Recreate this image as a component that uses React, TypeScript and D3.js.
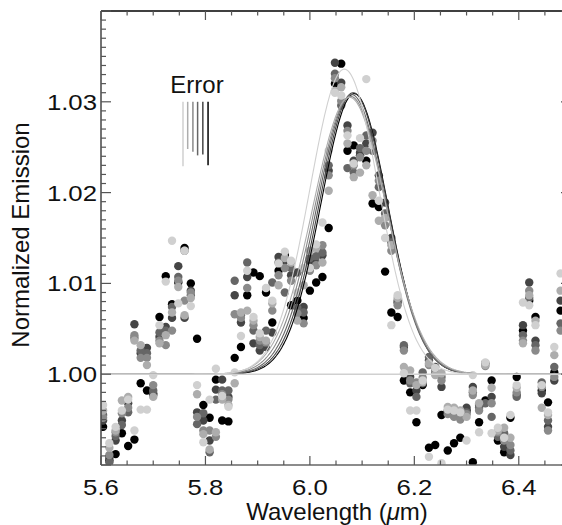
import * as d3 from "d3";

// wavelength grid of the spectrum (µm)
const wavelength = [
  5.604, 5.616, 5.628, 5.64, 5.652, 5.664, 5.676, 5.688, 5.7, 5.712,
  5.724, 5.736, 5.748, 5.76, 5.772, 5.784, 5.796, 5.808, 5.82, 5.832,
  5.844, 5.856, 5.868, 5.88, 5.892, 5.904, 5.916, 5.928, 5.94, 5.952,
  5.964, 5.976, 5.988, 6.0, 6.012, 6.024, 6.036, 6.048, 6.06, 6.072,
  6.084, 6.096, 6.108, 6.12, 6.132, 6.144, 6.156, 6.168, 6.18, 6.192,
  6.204, 6.216, 6.228, 6.24, 6.252, 6.264, 6.276, 6.288, 6.3, 6.312,
  6.324, 6.336, 6.348, 6.36, 6.372, 6.384, 6.396, 6.408, 6.42, 6.432,
  6.444, 6.456, 6.468, 6.48,
];

// normalized emission, one array per spectrum
const spec1 = [
  0.9942, 0.9905, 0.9912, 0.9935, 0.9921, 0.9928, 0.999, 0.9982, 0.9977, 1.0063,
  1.0108, 1.0077, 1.0101, 1.0139, 1.01, 1.0039, 0.9966, 0.9952, 0.9994, 0.9949,
  0.9948, 1.0018, 1.003, 1.0087, 1.0112, 1.0108, 1.009, 1.0057, 1.0114, 1.0131,
  1.0076, 1.0081, 1.0062, 1.0092, 1.0101, 1.0107, 1.0161, 1.032, 1.0342, 1.0246,
  1.0252, 1.0241, 1.0235, 1.0188, 1.0184, 1.0113, 1.0068, 1.0063, 0.9993, 0.998,
  0.9947, 0.9988, 0.9919, 0.9922, 0.9955, 0.9916, 0.9924, 0.993, 0.996, 0.9903,
  0.9947, 0.9971, 0.9993, 0.9927, 0.9914, 0.9952, 0.9997, 1.0048, 1.0081, 1.0063,
  0.9982, 0.9969, 1.0002, 1.007,
];
const spec2 = [
  0.9949, 0.9908, 0.9927, 0.9949, 0.9968, 1.0055, 1.0023, 1.0029, 0.9979, 1.0041,
  1.0052, 1.0062, 1.0119, 1.0062, 1.0092, 0.9958, 0.9949, 0.9927, 0.9983, 0.9994,
  0.9975, 1.0087, 1.0057, 1.0107, 1.0034, 1.0026, 1.003, 1.0046, 1.0129, 1.0125,
  1.0109, 1.0112, 1.0074, 1.0123, 1.0123, 1.0131, 1.0224, 1.0343, 1.0321, 1.0274,
  1.0235, 1.0244, 1.0254, 1.0266, 1.0219, 1.0189, 1.015, 1.0079, 1.003, 0.9997,
  0.9982, 0.999, 1.0015, 1.0008, 0.9986, 0.9958, 0.9955, 0.9953, 0.9963, 0.9986,
  0.9966, 1.0012, 0.9975, 0.9933, 0.992, 0.9911, 0.9977, 1.0054, 1.0101, 1.0037,
  0.9979, 0.9942, 0.9993, 1.0081,
];
const spec3 = [
  0.9955, 0.9903, 0.9932, 0.9944, 0.9958, 1.004, 1.0026, 1.0023, 0.9982, 1.0046,
  1.0048, 1.0074, 1.0107, 1.0136, 1.0087, 0.9945, 0.9957, 0.9914, 0.9972, 0.9982,
  0.9982, 1.0103, 1.0065, 1.0123, 1.0048, 1.0032, 1.0048, 1.0101, 1.0123, 1.009,
  1.0117, 1.0073, 1.0068, 1.0128, 1.013, 1.0134, 1.023, 1.0331, 1.0296, 1.0227,
  1.0222, 1.0249, 1.0263, 1.0246, 1.0206, 1.0177, 1.0145, 1.0081, 1.0032, 0.999,
  0.9975, 1.0002, 1.0019, 1.0002, 0.9997, 0.996, 0.9958, 0.9956, 0.9958, 0.998,
  0.9963, 0.9968, 0.9953, 0.9931, 0.9935, 0.9916, 0.9975, 1.0043, 1.0084, 1.0032,
  0.9991, 0.9949, 1.0008, 1.0056,
];
const spec4 = [
  0.9952, 0.9911, 0.9936, 0.9957, 0.9963, 1.0043, 1.0018, 1.0018, 0.9988, 1.0037,
  1.0032, 1.0048, 1.0103, 1.0081, 1.009, 0.9953, 0.9938, 0.9938, 0.9931, 0.9978,
  0.9972, 1.0066, 1.0062, 1.0095, 1.0054, 1.0037, 1.0035, 1.007, 1.0109, 1.0117,
  1.0103, 1.0067, 1.0056, 1.0114, 1.012, 1.0142, 1.0219, 1.0326, 1.0301, 1.0268,
  1.023, 1.0239, 1.0246, 1.0257, 1.0213, 1.0164, 1.0136, 1.0076, 1.0026, 0.9993,
  0.9991, 0.9996, 1.001, 1.0004, 0.9993, 0.9956, 0.9953, 0.995, 0.9956, 0.9977,
  0.996, 1.0009, 0.9968, 0.9936, 0.9927, 0.9922, 0.998, 1.0037, 1.0092, 1.0026,
  0.9986, 0.9938, 0.9997, 1.0048,
];
const spec5 = [
  0.996, 0.9919, 0.9938, 0.9971, 0.9975, 1.0037, 1.0032, 1.001, 0.9975, 1.0034,
  1.0043, 1.0068, 1.0096, 1.0065, 1.0084, 0.9978, 0.9934, 0.9917, 0.9936, 0.9972,
  0.9966, 0.999, 1.0068, 1.007, 1.0059, 1.0041, 1.0037, 1.0078, 1.0098, 1.0128,
  1.0123, 1.0059, 1.0098, 1.0136, 1.0139, 1.0123, 1.0202, 1.0312, 1.0316, 1.0254,
  1.0217, 1.0222, 1.023, 1.0197, 1.0169, 1.0172, 1.0142, 1.0084, 1.0008, 1.0004,
  0.9988, 0.9991, 1.0012, 0.9999, 1.0001, 0.9964, 0.9963, 0.996, 0.9953, 0.9982,
  0.9968, 1.001, 0.9985, 0.9938, 0.9941, 0.993, 0.9985, 1.0034, 1.0087, 1.0059,
  0.9963, 0.9955, 1.0021, 1.0092,
];
const spec6 = [
  0.9966, 0.9924, 0.9942, 0.996, 0.9972, 0.9938, 0.9961, 0.9961, 0.9999, 1.0054,
  1.0102, 1.0147, 1.0078, 1.0136, 1.0075, 0.9988, 0.9925, 0.9972, 1.0006, 0.9976,
  0.9964, 1.0002, 1.0042, 1.0114, 1.0063, 1.0045, 1.0095, 1.0081, 1.0122, 1.0135,
  1.0125, 1.009, 1.0117, 1.0117, 1.0143, 1.0167, 1.0246, 1.031, 1.0307, 1.0263,
  1.0232, 1.026, 1.0325, 1.0252, 1.0191, 1.015, 1.0054, 1.0087, 1.0001, 0.996,
  0.996, 0.9993, 0.9909, 1.0007, 0.9902, 0.9961, 0.996, 0.9958, 0.9927, 0.9999,
  0.9936, 1.0013, 0.9935, 0.9941, 0.993, 0.9955, 0.9988, 1.0079, 1.0076, 1.0054,
  0.9988, 0.9958, 1.003, 1.0111,
];

const spectra = [spec1, spec2, spec3, spec4, spec5, spec6];
const specColors = ["#000000", "#454545", "#666666", "#8a8a8a", "#adadad", "#d0d0d0"];

// gaussian fit of each spectrum: peak height above 1, centre (µm), sigma (µm)
const fitAmp = [0.0309, 0.031, 0.0308, 0.0306, 0.0305, 0.0336];
const fitCenter = [6.085, 6.083, 6.08, 6.078, 6.076, 6.066];
const fitSigma = [0.064, 0.065, 0.066, 0.068, 0.07, 0.066];
const continuum = 1.0;

// error bar length for each spectrum, hanging from 1.03
const errTop = 1.03;
const errSize = [0.007, 0.0058, 0.0059, 0.0055, 0.0052, 0.0071];
const errWave = [5.805, 5.795, 5.785, 5.776, 5.766, 5.757];

const xMajor = [5.6, 5.8, 6.0, 6.2, 6.4];
const yMajor = [1.0, 1.01, 1.02, 1.03];

const W = 562;
const H = 525;
const L = 101;
const R = 571;
const T = 11;
const B = 465;
const FONT = "'Liberation Sans', Arial, Helvetica, sans-serif";

export default function App() {
  const x = d3.scaleLinear().domain([5.6, 6.5]).range([L, R]);
  const y = d3.scaleLinear().domain([0.99, 1.04]).range([B, T]);

  const xMinor = d3.range(5.6, 6.5001, 0.05);
  const yMinor = d3.range(0.99, 1.04001, 0.001);
  const isMajorX = (v) => xMajor.some((m) => Math.abs(m - v) < 1e-6);
  const isMajorY = (v) => Math.abs(Math.round(v * 100) - v * 100) < 1e-4;

  const fineGrid = d3.range(5.6, 6.5001, 0.002);
  const line = d3
    .line()
    .x((d) => x(d[0]))
    .y((d) => y(d[1]));

  const fitPath = (k) =>
    line(
      fineGrid.map((w) => [
        w,
        continuum + fitAmp[k] * Math.exp(-((w - fitCenter[k]) ** 2) / (2 * fitSigma[k] ** 2)),
      ])
    );

  return (
    <svg width={W} height={H} style={{ display: "block", position: "absolute", left: 0, top: 0 }}>
      <defs>
        <clipPath id="plot">
          <rect x={L} y={T} width={R - L} height={B - T} />
        </clipPath>
      </defs>
      <rect width={W} height={H} fill="#fff" />

      <g clipPath="url(#plot)">
        {spectra.map((s, k) => (
          <g key={k} fill={specColors[k]}>
            {s.map((v, i) => (
              <circle key={i} cx={x(wavelength[i])} cy={y(v)} r={4.2} />
            ))}
          </g>
        ))}
        {[0, 1, 2, 3, 4, 5].map((k) => (
          <path key={k} d={fitPath(k)} fill="none" stroke={specColors[k]} strokeWidth={1.1} />
        ))}
        {/* continuum level */}
        <line
          x1={L}
          x2={R}
          y1={y(continuum)}
          y2={y(continuum)}
          stroke="#d0d0d0"
          strokeWidth={1.6}
        />
      </g>

      {/* error bars */}
      {errSize.map((e, k) => (
        <line
          key={k}
          x1={x(errWave[k])}
          x2={x(errWave[k])}
          y1={y(errTop)}
          y2={y(errTop - e)}
          stroke={specColors[k]}
          strokeWidth={1.5}
        />
      ))}
      <text x={197} y={93} textAnchor="middle" fontFamily={FONT} fontSize={24} fill="#111">
        Error
      </text>

      {/* axes frame */}
      <line x1={L} x2={R} y1={T} y2={T} stroke="#000" strokeWidth={1.5} />
      <line x1={L} x2={R} y1={B} y2={B} stroke="#666" strokeWidth={1.5} />
      <line x1={L} x2={L} y1={T} y2={B} stroke="#444" strokeWidth={1.5} />
      <line x1={R} x2={R} y1={T} y2={B} stroke="#444" strokeWidth={1.5} />

      {xMinor.map((v, i) => {
        const len = isMajorX(v) ? 9 : 4.5;
        return (
          <g key={i} stroke="#555" strokeWidth={1.2}>
            <line x1={x(v)} x2={x(v)} y1={B} y2={B - len} />
            <line x1={x(v)} x2={x(v)} y1={T} y2={T + len} />
          </g>
        );
      })}
      {yMinor.map((v, i) => {
        const len = isMajorY(v) ? 10 : 5;
        return (
          <g key={i} stroke="#555" strokeWidth={1.2}>
            <line x1={L} x2={L + len} y1={y(v)} y2={y(v)} />
            <line x1={R} x2={R - len} y1={y(v)} y2={y(v)} />
          </g>
        );
      })}

      {xMajor.map((v) => (
        <text
          key={v}
          transform={`translate(${x(v)},495) scale(1.17,1)`}
          textAnchor="middle"
          fontFamily={FONT}
          fontSize={22}
          fill="#111"
        >
          {v.toFixed(1)}
        </text>
      ))}
      {yMajor.map((v) => (
        <text
          key={v}
          transform={`translate(97,${y(v) + 8}) scale(1.17,1)`}
          textAnchor="end"
          fontFamily={FONT}
          fontSize={22}
          fill="#111"
        >
          {v.toFixed(2)}
        </text>
      ))}

      <text x={337} y={520} textAnchor="middle" fontFamily={FONT} fontSize={24} fill="#111">
        Wavelength (<tspan fontStyle="italic">μ</tspan>m)
      </text>
      <text
        transform="translate(29,235) rotate(-90)"
        textAnchor="middle"
        fontFamily={FONT}
        fontSize={24}
        fill="#111"
      >
        Normalized Emission
      </text>
    </svg>
  );
}
